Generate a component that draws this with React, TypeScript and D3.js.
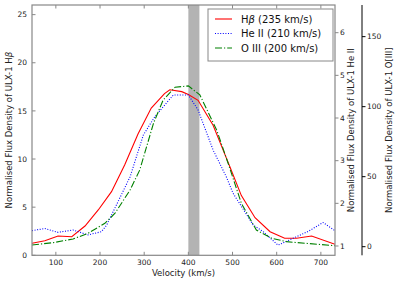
import * as d3 from 'd3';

const W = 399;
const H = 284;
const M = {left: 32, right: 335, top: 5, bottom: 255.3};

// H beta (left axis)
const hbVel = [46, 75, 105, 136, 166, 196, 226, 256, 286, 316, 346, 358, 385, 400, 422, 456, 479, 494, 520, 551, 585, 618, 645, 679, 732];
const hbFlux = [1.25, 1.52, 2.0, 1.93, 3.04, 4.71, 6.61, 9.4, 12.6, 15.3, 16.8, 17.2, 17.0, 16.7, 16.1, 13.5, 10.9, 9.2, 6.2, 3.9, 2.45, 1.77, 1.77, 2.0, 1.15];

// He II (first right axis)
const heVel = [46, 75, 105, 139, 173, 203, 215, 268, 298, 324, 366, 400, 422, 456, 486, 501, 547, 569, 603, 637, 671, 705, 732];
const heFlux = [1.36, 1.41, 1.32, 1.375, 1.26, 1.335, 1.49, 2.62, 3.6, 4.03, 4.54, 4.54, 4.19, 3.25, 2.62, 2.24, 1.49, 1.34, 1.02, 1.18, 1.34, 1.55, 1.36];

// O III (second right axis)
const oVel = [46, 94, 139, 173, 211, 234, 268, 290, 321, 343, 370, 400, 426, 464, 490, 520, 554, 589, 622, 667, 732];
const oFlux = [1.2, 2.9, 5.5, 9.6, 16.7, 23.9, 40.5, 54.8, 88.1, 104.8, 113.9, 114.8, 108.4, 83.4, 59.6, 31.0, 11.9, 6.0, 3.6, 2.4, 0.7];

const xTicks = [100, 200, 300, 400, 500, 600, 700];
const hbTicks = [0, 5, 10, 15, 20, 25];
const heTicks = [1, 2, 3, 4, 5, 6];
const oTicks = [0, 50, 100, 150];
const band = [400, 425];

const FONT = 'DejaVu Sans';
const FRAME = '#888';
const TICK_FS = 7.5;
const LABEL_FS = 8.5;

type Series = {label: string; italic?: boolean; vel: number[]; flux: number[]; color: string; dash?: string};

function App() {
  const x = d3.scaleLinear().domain([46, 732]).range([M.left, M.right]);
  const yHb = d3.scaleLinear().domain([0, 26]).range([M.bottom, M.top]);
  const yHe = d3.scaleLinear().domain([0.782, 6.649]).range([M.bottom, M.top]);
  const yO = d3.scaleLinear().domain([-6.14, 172.6]).range([M.bottom, M.top]);

  const mk = (y: d3.ScaleLinear<number, number>) =>
    d3.line<[number, number]>().x((d) => x(d[0])).y((d) => y(d[1]));

  const series: (Series & {y: d3.ScaleLinear<number, number>})[] = [
    {label: '(235 km/s)', italic: true, vel: hbVel, flux: hbFlux, color: '#ff0000', y: yHb},
    {label: 'He II (210 km/s)', vel: heVel, flux: heFlux, color: '#0000ff', dash: '1,1.6', y: yHe},
    {label: 'O III (200 km/s)', vel: oVel, flux: oFlux, color: '#008000', dash: '7,2,1.2,2', y: yO},
  ];

  const oX = 362;
  const cy = (M.top + M.bottom) / 2;

  return (
    <svg width={W} height={H} style={{position: 'absolute', left: 0, top: 0}} fontFamily={FONT}>
      <rect width={W} height={H} fill="#fff" />
      <rect x={x(band[0])} y={M.top} width={x(band[1]) - x(band[0])} height={M.bottom - M.top} fill="#b3b3b3" />
      <defs>
        <clipPath id="plot">
          <rect x={M.left} y={M.top} width={M.right - M.left} height={M.bottom - M.top} />
        </clipPath>
      </defs>
      <g clipPath="url(#plot)">
        {series.map((s) => (
          <path
            key={s.color}
            d={mk(s.y)(s.vel.map((v, i) => [v, s.flux[i]] as [number, number]))!}
            fill="none"
            stroke={s.color}
            strokeWidth={1.1}
            strokeDasharray={s.dash}
          />
        ))}
      </g>
      <rect x={M.left} y={M.top} width={M.right - M.left} height={M.bottom - M.top} fill="none" stroke={FRAME} strokeWidth={1.2} />

      {/* bottom / top ticks */}
      {xTicks.map((t) => (
        <g key={t}>
          <line x1={x(t)} x2={x(t)} y1={M.bottom} y2={M.bottom - 3.5} stroke={FRAME} />
          <line x1={x(t)} x2={x(t)} y1={M.top} y2={M.top + 3.5} stroke={FRAME} />
          <text x={x(t)} y={264.5} fontSize={TICK_FS} textAnchor="middle" fill="#222">{t}</text>
        </g>
      ))}
      <text x={(M.left + M.right) / 2} y={276} fontSize={LABEL_FS} textAnchor="middle" fill="#222">Velocity (km/s)</text>

      {/* left axis */}
      {hbTicks.map((t) => (
        <g key={t}>
          <line x1={M.left} x2={M.left + 3.5} y1={yHb(t)} y2={yHb(t)} stroke={FRAME} />
          <text x={27} y={yHb(t) + 2.7} fontSize={TICK_FS} textAnchor="end" fill="#222">{t}</text>
        </g>
      ))}
      <text transform={`translate(12,${cy}) rotate(-90)`} fontSize={LABEL_FS} textAnchor="middle" fill="#222">
        Normalised Flux Density of ULX-1 H<tspan fontStyle="italic">β</tspan>
      </text>

      {/* He II axis */}
      {heTicks.map((t) => (
        <g key={t}>
          <line x1={M.right} x2={M.right + 3.5} y1={yHe(t)} y2={yHe(t)} stroke={FRAME} />
          <text x={340} y={yHe(t) + 2.7} fontSize={TICK_FS} fill="#222">{t}</text>
        </g>
      ))}
      <text transform={`translate(354,${cy}) rotate(-90)`} fontSize={LABEL_FS} textAnchor="middle" fill="#222">
        Normalised Flux Density of ULX-1 He II
      </text>

      {/* O III axis */}
      <line x1={oX} x2={oX} y1={M.top} y2={M.bottom} stroke="#000" strokeWidth={1} />
      {oTicks.map((t) => (
        <g key={t}>
          <line x1={oX} x2={oX + 3.5} y1={yO(t)} y2={yO(t)} stroke="#000" />
          <text x={367} y={yO(t) + 2.7} fontSize={TICK_FS} fill="#222">{t}</text>
        </g>
      ))}
      <text transform={`translate(392,${cy}) rotate(-90)`} fontSize={LABEL_FS} textAnchor="middle" fill="#222">
        Normalised Flux Density of ULX-1 O[III]
      </text>

      {/* legend */}
      <rect x={208} y={9} width={125} height={52} fill="#fff" stroke={FRAME} strokeWidth={1} />
      {series.map((s, i) => {
        const ly = 19 + i * 14.5;
        return (
          <g key={s.color}>
            <line x1={215} x2={232} y1={ly} y2={ly} stroke={s.color} strokeWidth={1.1} strokeDasharray={s.dash} />
            <text x={241} y={ly + 3.5} fontSize={10} fill="#111">
              {s.italic ? (
                <>H<tspan fontStyle="italic">β</tspan> {s.label}</>
              ) : (
                s.label
              )}
            </text>
          </g>
        );
      })}
    </svg>
  );
}

export default App;
